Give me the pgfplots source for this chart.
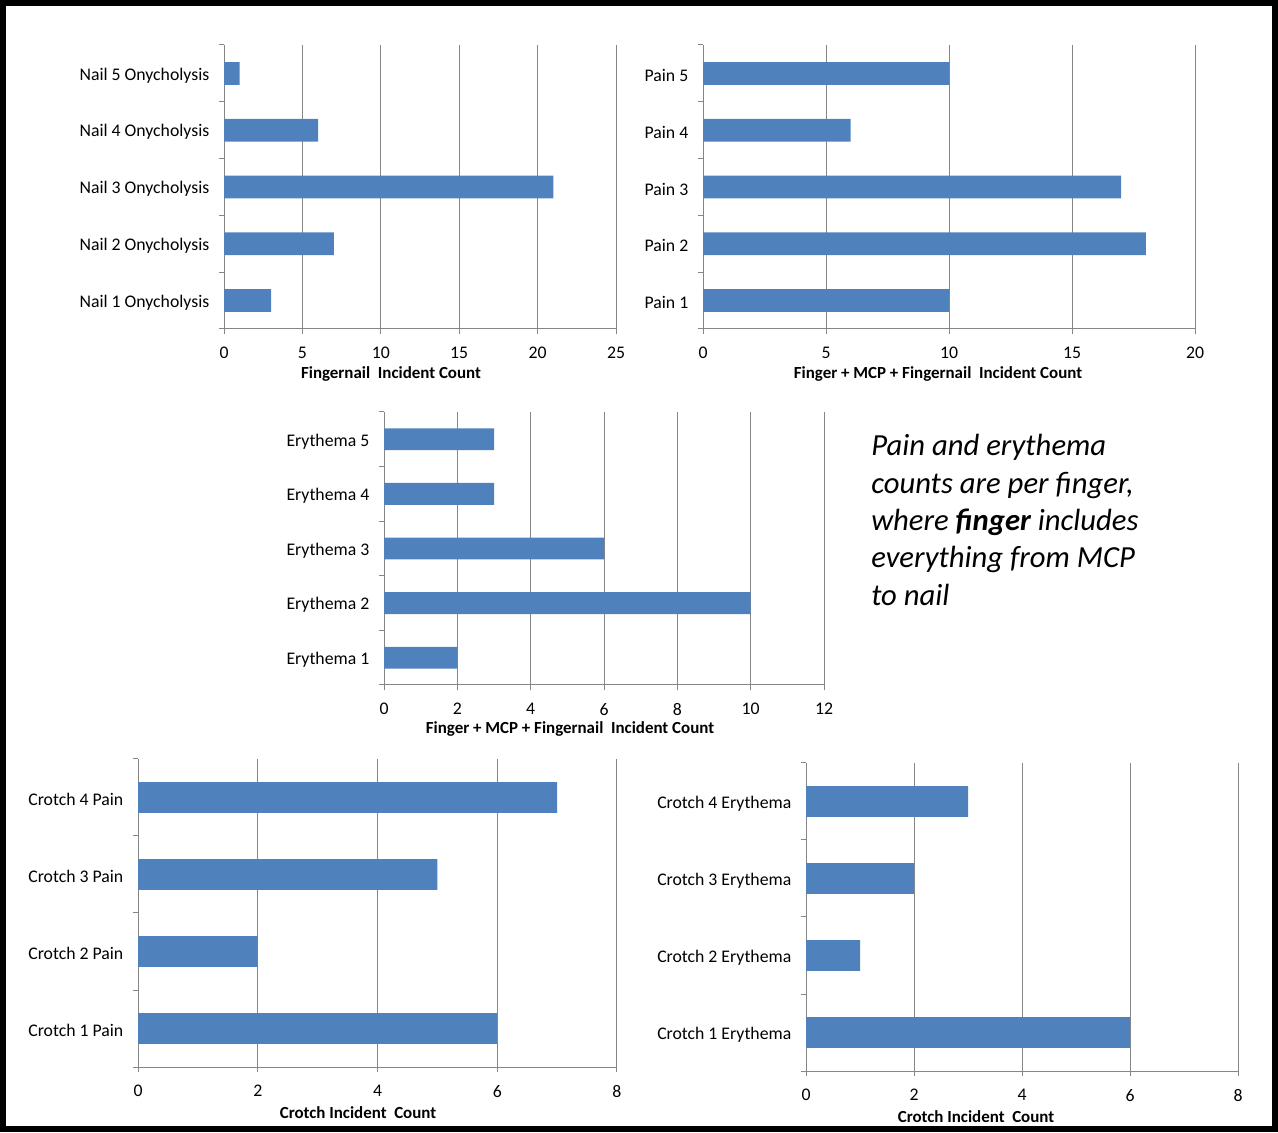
\documentclass[border=0pt]{standalone}
\usepackage{fontspec}
\setmainfont{Carlito}
\usepackage{pgfplots}
\pgfplotsset{compat=1.18}
\definecolor{barblue}{HTML}{4F81BD}
\definecolor{axgray}{HTML}{868686}
\pgfplotsset{
  xlchart/.style={
    xbar, scale only axis,
    anchor=south west,
    axis x line*=bottom, axis y line*=left,
    axis line style={-, draw=axgray, line width=0.75pt},
    xmin=0, ymin=0.5,
    xmajorgrids, ymajorgrids=false,
    grid style={axgray, line width=0.75pt},
    tick align=outside,
    major tick length=4pt,
    minor tick length=4pt,
    tick style={axgray, line width=0.75pt},
    major y tick style={draw=none},
    tick label style={font=\fontsize{13.3}{16}\selectfont, text=black},
    yticklabel style={xshift=-3.5pt, yshift=-1.5pt},
    xticklabel style={yshift=-6pt},
    label style={font=\fontsize{12.7}{15}\selectfont\bfseries, text=black},
    /pgf/number format/assume math mode=true,
    bar width=0.4,
  }
}
\begin{document}
\begin{tikzpicture}
\draw[line width=4.5pt] (2.25pt,2.25pt) rectangle (956.25pt,846.75pt);

% Chart 1: Nail onycholysis
\begin{axis}[xlchart, at={(168pt,602.25pt)}, width=294pt, height=213pt,
  xmax=25, xtick={0,5,10,15,20,25}, ymax=5.5,
  ytick={1,2,3,4,5}, minor ytick={0.5,1.5,2.5,3.5,4.5,5.5},
  yticklabels={Nail 1 Onycholysis, Nail 2 Onycholysis, Nail 3 Onycholysis, Nail 4 Onycholysis, Nail 5 Onycholysis},
  xlabel={Fingernail\ \ Incident Count}, xlabel style={xshift=-21.75pt, yshift=1pt}]
\addplot[fill=barblue, draw=none] coordinates {(3,1) (7,2) (21,3) (6,4) (1,5)};
\end{axis}

% Chart 2: Pain
\begin{axis}[xlchart, at={(527.25pt,602.25pt)}, width=369pt, height=213pt,
  xmax=20, xtick={0,5,10,15,20}, ymax=5.5,
  ytick={1,2,3,4,5}, minor ytick={0.5,1.5,2.5,3.5,4.5,5.5},
  yticklabels={Pain 1, Pain 2, Pain 3, Pain 4, Pain 5},
  xlabel={Finger + MCP + Fingernail\ \ Incident Count}, xlabel style={xshift=-8.25pt, yshift=1pt}]
\addplot[fill=barblue, draw=none] coordinates {(10,1) (18,2) (17,3) (6,4) (10,5)};
\end{axis}

% Chart 3: Erythema
\begin{axis}[xlchart, at={(288pt,335.25pt)}, width=330pt, height=204.75pt,
  xmax=12, xtick={0,2,4,6,8,10,12}, ymax=5.5,
  ytick={1,2,3,4,5}, minor ytick={0.5,1.5,2.5,3.5,4.5,5.5},
  yticklabels={Erythema 1, Erythema 2, Erythema 3, Erythema 4, Erythema 5},
  xlabel={Finger + MCP + Fingernail\ \ Incident Count}, xlabel style={xshift=-25.5pt, yshift=2pt}]
\addplot[fill=barblue, draw=none] coordinates {(2,1) (10,2) (6,3) (3,4) (3,5)};
\end{axis}

% Chart 4: Crotch pain
\begin{axis}[xlchart, at={(103.5pt,48.75pt)}, width=359.25pt, height=231pt,
  xmax=8, xtick={0,2,4,6,8}, ymax=4.5,
  ytick={1,2,3,4}, minor ytick={0.5,1.5,2.5,3.5,4.5},
  yticklabels={Crotch 1 Pain, Crotch 2 Pain, Crotch 3 Pain, Crotch 4 Pain},
  xlabel={Crotch Incident\ \ Count}, xlabel style={xshift=-14.6pt}]
\addplot[fill=barblue, draw=none] coordinates {(6,1) (2,2) (5,3) (7,4)};
\end{axis}

% Chart 5: Crotch erythema
\begin{axis}[xlchart, at={(604.5pt,45.75pt)}, width=324pt, height=231pt,
  xmax=8, xtick={0,2,4,6,8}, ymax=4.5,
  ytick={1,2,3,4}, minor ytick={0.5,1.5,2.5,3.5,4.5},
  yticklabels={Crotch 1 Erythema, Crotch 2 Erythema, Crotch 3 Erythema, Crotch 4 Erythema},
  xlabel={Crotch Incident\ \ Count}, xlabel style={xshift=-34.5pt}]
\addplot[fill=barblue, draw=none] coordinates {(6,1) (1,2) (2,3) (3,4)};
\end{axis}

% Note text
\begin{scope}[every node/.style={anchor=base west, inner sep=0pt, font=\fontsize{23}{27}\selectfont\itshape}]
\node at (653.25pt,507pt) {Pain and erythema};
\node at (653.25pt,478.5pt) {counts are per finger,};
\node at (653.25pt,450.75pt) {where \textbf{finger} includes};
\node at (653.25pt,423pt) {everything from MCP};
\node at (653.25pt,394.5pt) {to nail};
\end{scope}
\end{tikzpicture}
\end{document}
